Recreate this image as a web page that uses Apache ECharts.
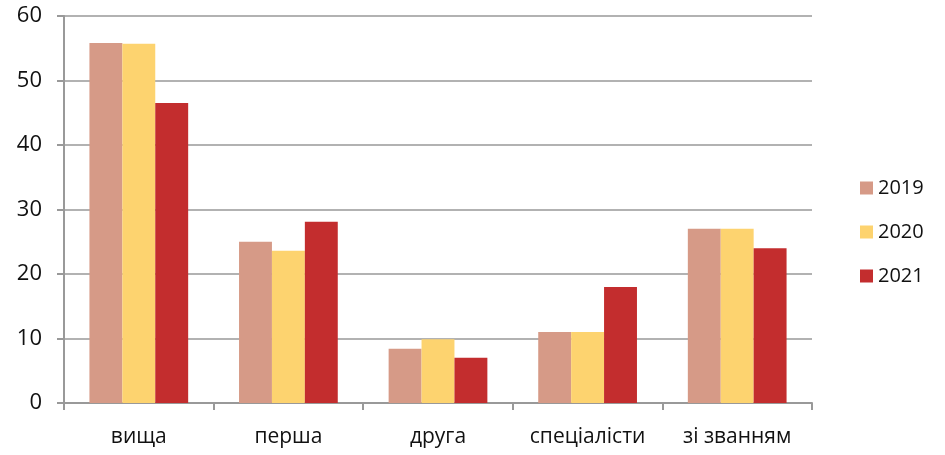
<!DOCTYPE html>
<html>
<head>
<meta charset="utf-8">
<script src="https://cdn.jsdelivr.net/npm/echarts@6/dist/echarts.min.js"></script>
<style>
  html, body { margin: 0; padding: 0; background: #fff; }
  #chart { width: 945px; height: 455px; }
</style>
</head>
<body>
<div id="chart"></div>
<script>
var categories = ['вища', 'перша', 'друга', 'спеціалісти', 'зі званням'];
var years = ['2019', '2020', '2021'];
var v2019 = [55.8, 25.0, 8.4, 11.0, 27.0];
var v2020 = [55.7, 23.6, 9.9, 11.0, 27.0];
var v2021 = [46.5, 28.1, 7.0, 18.0, 24.0];
var colors = ['#D69A87', '#FDD36F', '#C32D2E'];

var lines = [v2019, v2020, v2021];
var series = [];
for (var i in years) {
    series.push({
        name: years[i],
        type: 'bar',
        data: lines[i],
        barGap: '0%',
        barCategoryGap: '34%'
    });
}

var myChart = echarts.init(document.getElementById('chart'));
var option = {
    backgroundColor: '#fff',
    animation: false,
    color: colors,
    grid: {
        left: 64,
        right: 133,
        top: 16,
        bottom: 52
    },
    legend: {
        orient: 'vertical',
        left: 855,
        top: 173,
        itemWidth: 13,
        itemHeight: 13,
        itemGap: 24,
        icon: 'rect',
        textStyle: { fontFamily: 'Open Sans', fontSize: 20, color: '#111' },
        data: years
    },
    xAxis: {
        type: 'category',
        data: categories,
        axisLine: { lineStyle: { color: '#999', width: 2 } },
        axisTick: { show: true, length: 7, lineStyle: { color: '#999', width: 2 } },
        axisLabel: { interval: 0, fontFamily: 'Open Sans', fontSize: 21, color: '#111', margin: 24 }
    },
    yAxis: {
        type: 'value',
        min: 0,
        max: 60,
        interval: 10,
        axisLine: { show: true, lineStyle: { color: '#999', width: 2 } },
        axisTick: { show: true, length: 7, lineStyle: { color: '#999', width: 2 } },
        splitLine: { lineStyle: { color: '#999', width: 1.5 } },
        axisLabel: { fontFamily: 'Open Sans', fontSize: 22, color: '#111', margin: 22 }
    },
    series: series
};
myChart.setOption(option);
</script>
</body>
</html>
